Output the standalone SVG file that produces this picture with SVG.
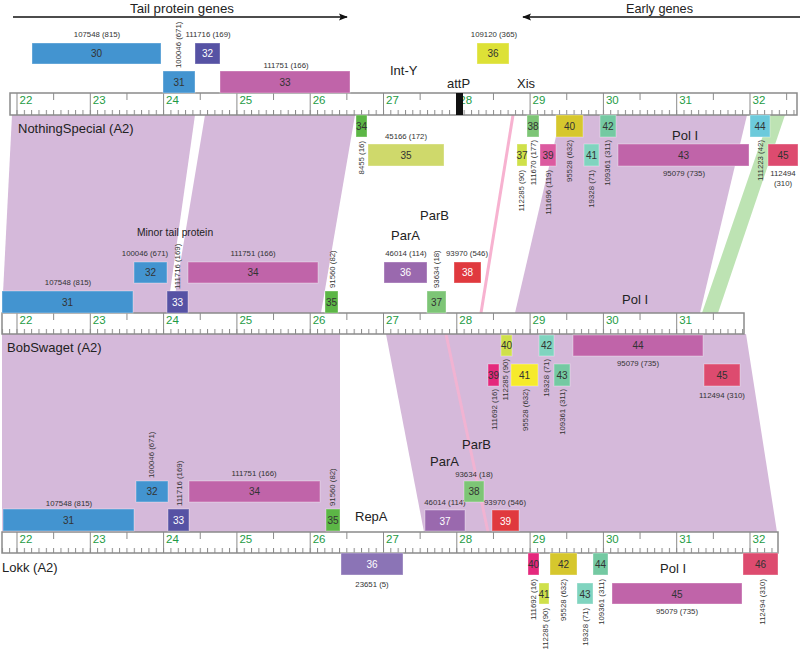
<svg xmlns="http://www.w3.org/2000/svg" width="800" height="649" viewBox="0 0 800 649">
<style>
text{font-family:"Liberation Sans",Arial,sans-serif}
.s{font-size:7.8px;fill:#333}
.c{text-anchor:middle}
.e{text-anchor:end}
.n{font-size:10px;fill:#333;text-anchor:middle}
.w{fill:#fff}
.big{font-size:13px;fill:#222}
.g{font-size:11.5px;fill:#1e9b45}
.rl{fill:#fff;stroke:#8a8a8a;stroke-width:1.5}
.band{fill:#d5b9da}
.blue{fill:#4394d0}
.ind{fill:#5652a4}
.mag{fill:#c064a9}
.pur{fill:#9a69ae}
.pur2{fill:#8b74b6}
.grn{fill:#5cb646}
.lgr{fill:#7dc576}
.red{fill:#e0393e}
.ygr{fill:#cfe04a}
.yel36{fill:#dde136}
.kha{fill:#cfd96b}
.oli{fill:#d6c72d}
.mint{fill:#80d4bf}
.teal{fill:#74c9a2}
.cyan{fill:#6ccadb}
.rp{fill:#dd4b6f}
.pk{fill:#dc5aa0}
.hm{fill:#e4287c}
.yl{fill:#f6ea2b}
rect.b{stroke:#ffffff;stroke-opacity:0.35;stroke-width:1}
</style>
<defs>
<pattern id="mt" patternUnits="userSpaceOnUse" x="16.5" y="0" width="7.33" height="649"><rect x="0" y="0" width="1" height="649" fill="#8a8a8a"/></pattern>
<pattern id="ht" patternUnits="userSpaceOnUse" x="53.15" y="0" width="73.3" height="649"><rect x="0" y="0" width="1" height="649" fill="#8a8a8a"/></pattern>
<pattern id="mj" patternUnits="userSpaceOnUse" x="16.5" y="0" width="73.3" height="649"><rect x="0" y="0" width="1" height="649" fill="#8a8a8a"/></pattern>
<marker id="ah" viewBox="0 0 10 10" refX="9" refY="5" markerWidth="6" markerHeight="6" orient="auto"><path d="M0,1 L10,5 L0,9 L2,5 Z" fill="#111"/></marker>
</defs>

<g id="connectors">
<polygon class="band" points="12,115 195,115 167,313 2,313"/>
<polygon class="band" points="205,115 355,115 321,313 172,313"/>
<polygon class="band" points="561,115 747,115 700,313 515,313"/>
<polygon fill="#bde3b3" points="770,115 785,115 718,313 702,313"/>
<line x1="513" y1="115" x2="481" y2="313" stroke="#f7b2d0" stroke-width="3"/>
<polygon class="band" points="2,334 340,334 340,532 2,532"/>
<polygon class="band" points="386,334 746,334 777,532 424,532"/>
<line x1="446" y1="334" x2="488" y2="532" stroke="#f7b2d0" stroke-width="3" stroke-opacity="0.8"/>
</g>

<g id="headers">
<text class="big" x="130" y="12.5" textLength="104" lengthAdjust="spacingAndGlyphs">Tail protein genes</text>
<line x1="13" y1="17" x2="347" y2="17" stroke="#111" stroke-width="1.5" marker-end="url(#ah)"/>
<text class="big" x="626" y="12.5" textLength="67" lengthAdjust="spacingAndGlyphs">Early genes</text>
<line x1="800" y1="17" x2="523" y2="17" stroke="#111" stroke-width="1.5" marker-end="url(#ah)"/>
</g>

<g id="ruler1">
<rect class="rl" x="10" y="93" width="787" height="22"/>
<rect x="10" y="110" width="787" height="5" fill="url(#mt)"/>
<rect x="10" y="93" width="787" height="7" fill="url(#ht)"/>
<rect x="10" y="93" width="787" height="22" fill="url(#mj)"/>
<g class="g"><text x="19.5" y="104">22</text><text x="92.8" y="104">23</text><text x="166.1" y="104">24</text><text x="239.4" y="104">25</text><text x="312.7" y="104">26</text><text x="386" y="104">27</text><text x="459.3" y="104">28</text><text x="532.6" y="104">29</text><text x="605.9" y="104">30</text><text x="679.2" y="104">31</text><text x="752.5" y="104">32</text></g>
<rect x="456" y="93" width="7" height="22" fill="#111"/>
</g>

<g id="ruler2">
<rect class="rl" x="2" y="313" width="742" height="21"/>
<rect x="2" y="329" width="742" height="5" fill="url(#mt)"/>
<rect x="2" y="313" width="742" height="7" fill="url(#ht)"/>
<rect x="2" y="313" width="742" height="21" fill="url(#mj)"/>
<g class="g"><text x="19.5" y="323.5">22</text><text x="92.8" y="323.5">23</text><text x="166.1" y="323.5">24</text><text x="239.4" y="323.5">25</text><text x="312.7" y="323.5">26</text><text x="386" y="323.5">27</text><text x="459.3" y="323.5">28</text><text x="532.6" y="323.5">29</text><text x="605.9" y="323.5">30</text><text x="679.2" y="323.5">31</text></g>
</g>

<g id="ruler3">
<rect class="rl" x="2" y="532" width="776" height="21"/>
<rect x="2" y="548" width="776" height="5" fill="url(#mt)"/>
<rect x="2" y="532" width="776" height="7" fill="url(#ht)"/>
<rect x="2" y="532" width="776" height="21" fill="url(#mj)"/>
<g class="g"><text x="19.5" y="542.5">22</text><text x="92.8" y="542.5">23</text><text x="166.1" y="542.5">24</text><text x="239.4" y="542.5">25</text><text x="312.7" y="542.5">26</text><text x="386" y="542.5">27</text><text x="459.3" y="542.5">28</text><text x="532.6" y="542.5">29</text><text x="605.9" y="542.5">30</text><text x="679.2" y="542.5">31</text><text x="752.5" y="542.5">32</text></g>
</g>

<g id="labels">
<text class="big" x="390" y="75">Int-Y</text>
<text class="big" x="447" y="88">attP</text>
<text class="big" x="517" y="88">Xis</text>
<text class="big" x="18" y="133">NothingSpecial (A2)</text>
<text class="big" x="672" y="140">Pol I</text>
<text class="big" x="420" y="220">ParB</text>
<text class="big" x="391" y="240">ParA</text>
<text x="137" y="236" style="font-size:10.3px;fill:#222">Minor tail protein</text>
<text class="big" x="622" y="304">Pol I</text>
<text class="big" x="7" y="352">BobSwaget (A2)</text>
<text class="big" x="462" y="449">ParB</text>
<text class="big" x="430" y="466">ParA</text>
<text class="big" x="355" y="521">RepA</text>
<text class="big" x="2" y="572">Lokk (A2)</text>
<text class="big" x="660" y="573">Pol I</text>
</g>

<!-- NothingSpecial -->
<g id="ns30"><rect class="b blue" x="32" y="43" width="129" height="21"/><text class="n" x="96.5" y="57">30</text><text class="s c" x="97" y="37">107548 (815)</text></g>
<g id="ns31"><rect class="b blue" x="163" y="71" width="32" height="22"/><text class="n" x="179" y="85.5">31</text><text class="s" transform="translate(180.8,68) rotate(-90)">100046 (671)</text></g>
<g id="ns32"><rect class="b ind" x="195" y="43" width="25" height="21"/><text class="n w" x="207.5" y="57">32</text><text class="s c" x="208" y="37">111716 (169)</text></g>
<g id="ns33"><rect class="b mag" x="220" y="71" width="130" height="22"/><text class="n" x="285" y="85.5">33</text><text class="s c" x="286" y="68">111751 (166)</text></g>
<g id="ns36"><rect class="b yel36" x="477" y="43" width="32" height="21"/><text class="n" x="493" y="57">36</text><text class="s c" x="494" y="37">109120 (365)</text></g>
<g id="ns34"><rect class="b grn" x="356" y="115" width="11" height="22"/><text class="n" x="361.5" y="129.5">34</text><text class="s e" transform="translate(363.8,141) rotate(-90)">8455 (16)</text></g>
<g id="ns35"><rect class="b kha" x="368" y="144" width="76" height="22"/><text class="n" x="406" y="158.5">35</text><text class="s c" x="406" y="139">45166 (172)</text></g>
<g id="ns37"><rect class="b ygr" x="517" y="144" width="10" height="22"/><text class="n" x="522" y="158.5">37</text><text class="s e" transform="translate(523.8,170) rotate(-90)">112285 (90)</text></g>
<g id="ns38"><rect class="b lgr" x="527" y="115" width="12" height="22"/><text class="n" x="533" y="129.5">38</text><text class="s e" transform="translate(535.8,140) rotate(-90)">111670 (177)</text></g>
<g id="ns39"><rect class="b pk" x="540" y="144" width="16" height="22"/><text class="n" x="548" y="158.5">39</text><text class="s e" transform="translate(550.8,170) rotate(-90)">111696 (119)</text></g>
<g id="ns40"><rect class="b oli" x="556" y="115" width="27" height="22"/><text class="n" x="569.5" y="129.5">40</text><text class="s e" transform="translate(571.8,140) rotate(-90)">95528 (632)</text></g>
<g id="ns41"><rect class="b mint" x="584" y="144" width="15" height="22"/><text class="n" x="591.5" y="158.5">41</text><text class="s e" transform="translate(593.8,170) rotate(-90)">19328 (71)</text></g>
<g id="ns42"><rect class="b teal" x="600" y="115" width="16" height="22"/><text class="n" x="608" y="129.5">42</text><text class="s e" transform="translate(609.8,140) rotate(-90)">109361 (311)</text></g>
<g id="ns43"><rect class="b mag" x="618" y="144" width="131" height="22"/><text class="n" x="683.5" y="158.5">43</text><text class="s c" x="684" y="176">95079 (735)</text></g>
<g id="ns44"><rect class="b cyan" x="750" y="115" width="20" height="22"/><text class="n" x="760" y="129.5">44</text><text class="s e" transform="translate(762.8,140) rotate(-90)">111223 (42)</text></g>
<g id="ns45"><rect class="b rp" x="768" y="144" width="30" height="22"/><text class="n" x="783" y="158.5">45</text><text class="s c" x="783" y="176">112494</text><text class="s c" x="783" y="185.5">(310)</text></g>

<!-- BobSwaget -->
<g id="bs31"><rect class="b blue" x="2" y="291" width="131" height="22"/><text class="n" x="67.5" y="305.5">31</text><text class="s c" x="68" y="285">107548 (815)</text></g>
<g id="bs32"><rect class="b blue" x="134" y="262" width="33" height="21"/><text class="n" x="150.5" y="276">32</text><text class="s c" x="145" y="256">100046 (671)</text></g>
<g id="bs33"><rect class="b ind" x="167" y="291" width="21" height="22"/><text class="n w" x="177.5" y="305.5">33</text><text class="s" transform="translate(179.8,289) rotate(-90)">111716 (169)</text></g>
<g id="bs34"><rect class="b mag" x="188" y="262" width="130" height="21"/><text class="n" x="253" y="276">34</text><text class="s c" x="253" y="256">111751 (166)</text></g>
<g id="bs35"><rect class="b grn" x="325" y="291" width="13" height="22"/><text class="n" x="331.5" y="305.5">35</text><text class="s" transform="translate(334.8,288) rotate(-90)">91560 (82)</text></g>
<g id="bs36"><rect class="b pur" x="384" y="262" width="43" height="21"/><text class="n w" x="405.5" y="276">36</text><text class="s c" x="406" y="256">46014 (114)</text></g>
<g id="bs37"><rect class="b lgr" x="427" y="291" width="19" height="22"/><text class="n" x="436.5" y="305.5">37</text><text class="s" transform="translate(438.8,288) rotate(-90)">93634 (18)</text></g>
<g id="bs38"><rect class="b red" x="454" y="262" width="27" height="21"/><text class="n w" x="467.5" y="276">38</text><text class="s c" x="467" y="256">93970 (546)</text></g>
<g id="bs40"><rect class="b ygr" x="501" y="335" width="11" height="21"/><text class="n" x="506.5" y="349">40</text><text class="s e" transform="translate(507.8,359) rotate(-90)">112285 (90)</text></g>
<g id="bs39"><rect class="b hm" x="488" y="364" width="11" height="22"/><text class="n" x="493.5" y="378.5">39</text><text class="s e" transform="translate(496.8,389) rotate(-90)">111692 (16)</text></g>
<g id="bs41"><rect class="b yl" x="511" y="364" width="27" height="22"/><text class="n" x="524.5" y="378.5">41</text><text class="s e" transform="translate(527.8,389) rotate(-90)">95528 (632)</text></g>
<g id="bs42"><rect class="b mint" x="539" y="335" width="15" height="21"/><text class="n" x="546.5" y="349">42</text><text class="s e" transform="translate(548.8,359) rotate(-90)">19328 (71)</text></g>
<g id="bs43"><rect class="b teal" x="554" y="364" width="16" height="22"/><text class="n" x="562" y="378.5">43</text><text class="s e" transform="translate(564.8,389) rotate(-90)">109361 (311)</text></g>
<g id="bs44"><rect class="b mag" x="573" y="335" width="130" height="21"/><text class="n" x="638" y="349">44</text><text class="s c" x="638" y="366">95079 (735)</text></g>
<g id="bs45"><rect class="b rp" x="704" y="364" width="36" height="22"/><text class="n" x="722" y="378.5">45</text><text class="s c" x="722" y="398">112494 (310)</text></g>

<!-- Lokk -->
<g id="lk31"><rect class="b blue" x="3" y="509" width="131" height="22"/><text class="n" x="68.5" y="523.5">31</text><text class="s c" x="69" y="506">107548 (815)</text></g>
<g id="lk32"><rect class="b blue" x="136" y="481" width="32" height="21"/><text class="n" x="152" y="495">32</text><text class="s" transform="translate(153.8,478) rotate(-90)">100046 (671)</text></g>
<g id="lk33"><rect class="b ind" x="168" y="509" width="21" height="22"/><text class="n w" x="178.5" y="523.5">33</text><text class="s" transform="translate(181.8,506) rotate(-90)">111716 (169)</text></g>
<g id="lk34"><rect class="b mag" x="189" y="481" width="131" height="21"/><text class="n" x="254.5" y="495">34</text><text class="s c" x="254" y="476">111751 (166)</text></g>
<g id="lk35"><rect class="b grn" x="326" y="509" width="14" height="22"/><text class="n" x="333" y="523.5">35</text><text class="s" transform="translate(334.8,506) rotate(-90)">91560 (82)</text></g>
<g id="lk37"><rect class="b pur" x="425" y="510" width="40" height="21"/><text class="n w" x="445" y="524.5">37</text><text class="s c" x="445" y="505">46014 (114)</text></g>
<g id="lk38"><rect class="b lgr" x="464" y="481" width="20" height="21"/><text class="n" x="474" y="495">38</text><text class="s c" x="474" y="477">93634 (18)</text></g>
<g id="lk39"><rect class="b red" x="492" y="510" width="27" height="21"/><text class="n w" x="505.5" y="524.5">39</text><text class="s c" x="505" y="505">93970 (546)</text></g>
<g id="lk36"><rect class="b pur2" x="341" y="553" width="62" height="22"/><text class="n w" x="372" y="567.5">36</text><text class="s c" x="372" y="587">23651 (5)</text></g>
<g id="lk40"><rect class="b hm" x="528" y="553" width="11" height="22"/><text class="n" x="533.5" y="567.5">40</text><text class="s e" transform="translate(535.8,579) rotate(-90)">111692 (16)</text></g>
<g id="lk41"><rect class="b ygr" x="539" y="583" width="10" height="21"/><text class="n" x="544" y="597.5">41</text><text class="s e" transform="translate(547.8,608) rotate(-90)">112285 (90)</text></g>
<g id="lk42"><rect class="b oli" x="550" y="553" width="27" height="22"/><text class="n" x="563.5" y="567.5">42</text><text class="s e" transform="translate(565.8,579) rotate(-90)">95528 (632)</text></g>
<g id="lk43"><rect class="b mint" x="577" y="583" width="16" height="21"/><text class="n" x="585" y="597.5">43</text><text class="s e" transform="translate(587.8,608) rotate(-90)">19328 (71)</text></g>
<g id="lk44"><rect class="b teal" x="593" y="553" width="15" height="22"/><text class="n" x="600.5" y="567.5">44</text><text class="s e" transform="translate(603.8,579) rotate(-90)">109361 (311)</text></g>
<g id="lk45"><rect class="b mag" x="612" y="583" width="130" height="21"/><text class="n" x="677" y="597.5">45</text><text class="s c" x="677" y="614">95079 (735)</text></g>
<g id="lk46"><rect class="b rp" x="743" y="553" width="35" height="22"/><text class="n" x="760.5" y="567.5">46</text><text class="s e" transform="translate(764.8,579) rotate(-90)">112494 (310)</text></g>
</svg>
